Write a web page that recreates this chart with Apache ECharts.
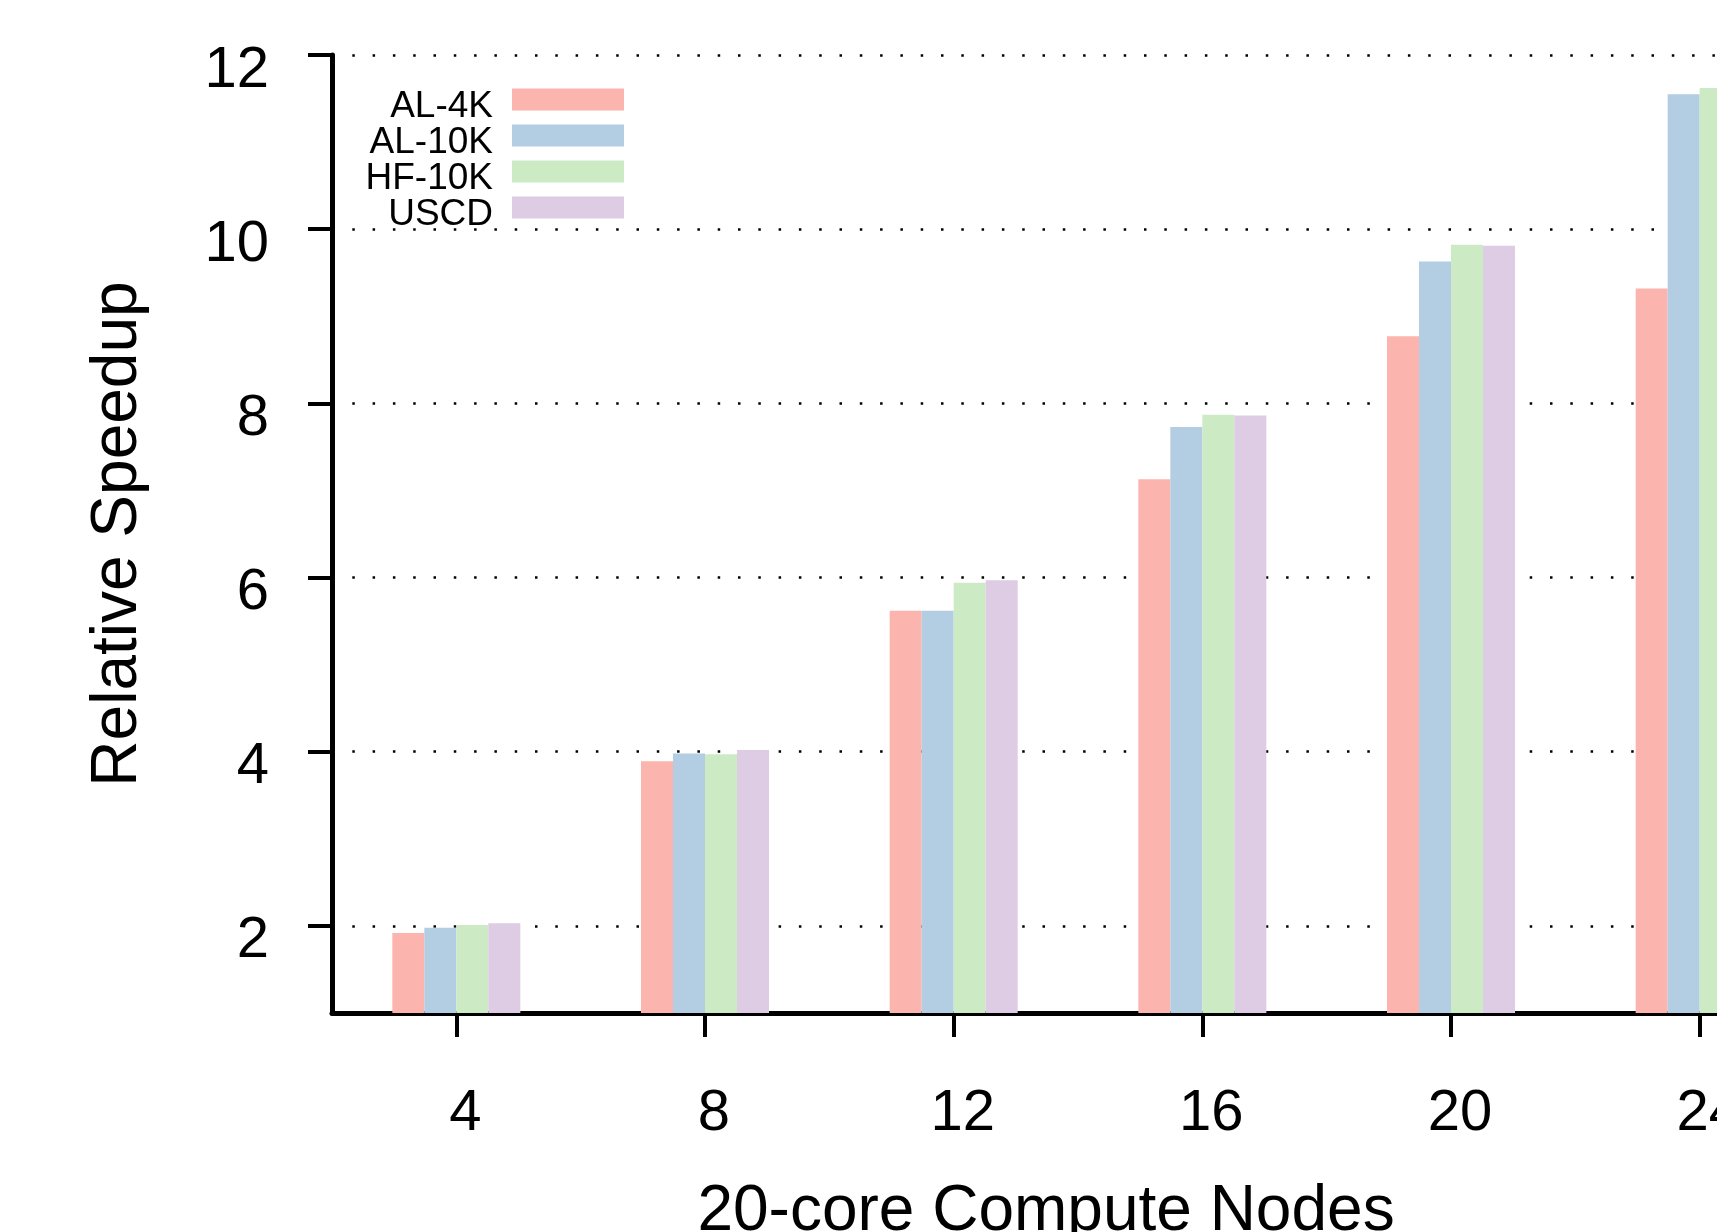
<!DOCTYPE html>
<html>
<head>
<meta charset="utf-8">
<script src="https://cdn.jsdelivr.net/npm/echarts@6/dist/echarts.min.js"></script>
<style>
html,body{margin:0;padding:0;background:#fff;}
#chart{width:1717px;height:1232px;}
</style>
</head>
<body>
<div id="chart"></div>
<script>
var categories = ['4', '8', '12', '16', '20', '24'];
var seriesNames = ['AL-4K', 'AL-10K', 'HF-10K', 'USCD'];
var al4k  = [1.92, 3.89, 5.62, 7.13, 8.77, 9.32];
var al10k = [1.98, 3.98, 5.62, 7.73, 9.63, 11.55];
var hf10k = [2.01, 3.97, 5.94, 7.87, 9.82, 11.62];
var uscd  = [2.03, 4.02, 5.97, 7.86, 9.81, 11.60];
var yTicks = [2, 4, 6, 8, 10, 12];
var colors = ['#FBB4AE', '#B3CDE3', '#CCEBC5', '#DECBE4'];

var FONT = 'Liberation Sans';
var values = [al4k, al10k, hf10k, uscd];
// legend swatch: 112x22 block drawn at the top of a 112x36 icon box
var swatchIcon = 'path://M0,0 L112,0 L112,22 L0,22 Z M0,36 L0.01,36 L0,36 Z';
var series = seriesNames.map(function (name, i) {
  return {
    name: name,
    type: 'bar',
    data: values[i],
    barWidth: 32,
    barGap: '0%',
    itemStyle: { color: colors[i] }
  };
});

var chart = echarts.init(document.getElementById('chart'), null, { renderer: 'canvas' });
chart.setOption({
  animation: false,
  backgroundColor: '#ffffff',
  textStyle: { fontFamily: FONT, color: '#000' },
  grid: { left: 332, top: 55, width: 1492, height: 958, containLabel: false, outerBoundsMode: 'none' },
  legend: {
    orient: 'vertical',
    align: 'right',
    right: 1093,
    top: 88,
    padding: 0,
    itemWidth: 112,
    itemHeight: 36,
    itemGap: -1,
    icon: swatchIcon,
    selectedMode: false,
    itemStyle: { borderWidth: 0 },
    textStyle: { fontFamily: FONT, fontSize: 37, color: '#000', lineHeight: 34, padding: [0, 14, 0, 0] },
    data: seriesNames
  },
  xAxis: {
    type: 'category',
    data: categories,
    name: '20-core Compute Nodes',
    nameLocation: 'middle',
    nameGap: 167,
    nameTextStyle: { fontFamily: FONT, fontSize: 64, color: '#000', padding: [0, 64, 0, 0] },
    axisLine: { lineStyle: { color: '#000', width: 5 } },
    axisTick: { show: true, alignWithLabel: true, length: 24, lineStyle: { color: '#000', width: 4 } },
    axisLabel: { interval: 0, fontFamily: FONT, fontSize: 58, color: '#000', margin: 72, padding: [0, 0, 0, 18] },
    splitLine: { show: false }
  },
  yAxis: {
    type: 'value',
    min: 1,
    max: 12,
    splitNumber: 5,
    name: 'Relative Speedup',
    nameLocation: 'middle',
    nameGap: 182,
    nameTextStyle: { fontFamily: FONT, fontSize: 64, color: '#000' },
    axisLine: { show: true, lineStyle: { color: '#000', width: 5 } },
    axisTick: { show: true, length: 24, customValues: yTicks, lineStyle: { color: '#000', width: 4 } },
    axisLabel: { fontFamily: FONT, fontSize: 58, color: '#000', margin: 63, customValues: yTicks, verticalAlign: 'top', lineHeight: 31 },
    splitLine: { show: true, lineStyle: { color: '#000', width: 2.5, type: [2.5, 17.8] } }
  },
  series: series
});
</script>
</body>
</html>
